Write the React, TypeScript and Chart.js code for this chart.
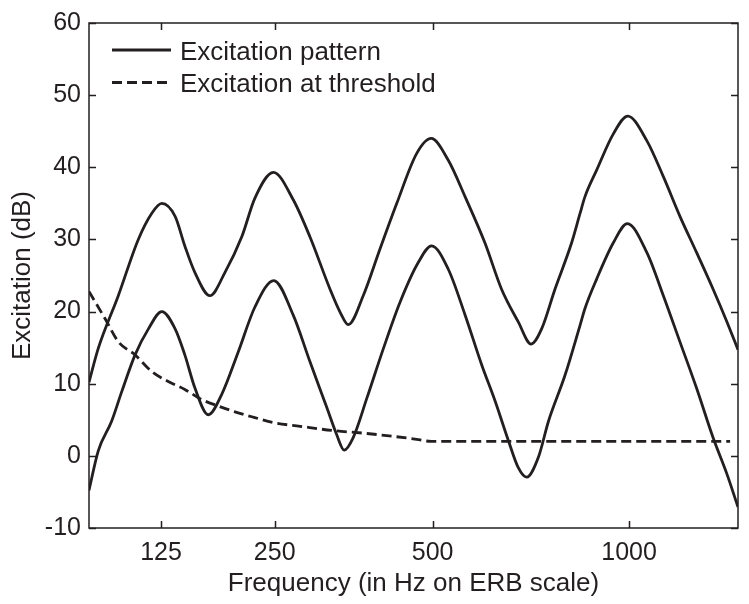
import React, { useEffect, useRef } from "react";
import { Chart, registerables } from "chart.js";

Chart.register(...registerables);

// x values are ERB numbers (ERB-rate scale), y values in dB
const UPPER_ERB = [2.27, 2.5, 2.995, 3.49, 3.82, 4.07, 4.4, 4.64, 4.89, 5.26, 5.63, 6.05, 6.37, 6.83, 7.32, 7.73, 8.23, 8.48, 8.68, 9.05, 9.46, 9.88, 10.37, 10.73, 11.15, 11.57, 12.06, 12.47, 12.88, 13.2, 13.46, 13.79, 14.2, 14.41, 14.53, 14.82, 15.23, 15.59, 16.06, 16.47, 16.88, 17.29, 17.7, 18.04, 18.315];
const UPPER_DB = [10.2, 14.9, 22.2, 30.0, 33.6, 35.0, 33.2, 29.1, 25.4, 22.2, 25.4, 30.4, 35.7, 39.3, 35.5, 30.4, 23.1, 19.9, 18.2, 22.2, 28.6, 35.0, 41.9, 44.0, 41.0, 35.9, 29.5, 23.1, 18.6, 15.5, 17.6, 23.1, 29.5, 33.6, 35.9, 39.6, 44.6, 47.1, 43.7, 38.7, 33.2, 28.2, 23.1, 18.6, 14.7];

const LOWER_ERB = [2.27, 2.5, 2.83, 3.08, 3.41, 3.74, 4.07, 4.4, 4.64, 4.89, 5.22, 5.55, 5.96, 6.37, 6.84, 7.32, 7.73, 8.15, 8.39, 8.58, 8.8, 9.14, 9.55, 9.96, 10.41, 10.74, 11.15, 11.57, 11.98, 12.31, 12.64, 12.88, 13.09, 13.38, 13.63, 14.04, 14.41, 14.53, 14.82, 15.23, 15.58, 16.06, 16.47, 16.88, 17.29, 17.7, 18.04, 18.315];
const LOWER_DB = [-4.8, 0.7, 4.8, 8.9, 14.0, 17.6, 20.0, 17.6, 14.0, 9.4, 5.7, 8.5, 14.4, 20.6, 24.3, 19.5, 13.1, 6.7, 3.0, 0.8, 2.5, 8.0, 14.9, 21.3, 26.8, 29.1, 25.9, 19.5, 12.6, 7.6, 2.1, -1.6, -2.95, -0.2, 4.8, 11.2, 18.1, 20.4, 24.5, 29.5, 32.2, 28.2, 22.2, 15.8, 9.4, 2.5, -2.5, -7.1];

const THRESH_ERB = [2.27, 2.67, 3.0, 3.41, 3.82, 4.23, 4.64, 5.06, 5.47, 5.88, 6.37, 6.83, 7.49, 8.31, 9.14, 10.37, 10.73, 18.12];
const THRESH_DB = [22.8, 19.0, 15.8, 14.0, 11.7, 10.3, 9.2, 7.8, 6.9, 6.1, 5.3, 4.6, 4.1, 3.5, 3.1, 2.3, 2.0, 2.0];

const TICK_HZ = [125, 250, 500, 1000];
const TICK_LABELS = ["125", "250", "500", "1000"];
const Y_TICKS = [-10, 0, 10, 20, 30, 40, 50, 60];

const X_MIN_ERB = 2.271;
const X_MAX_ERB = 18.315;

const LABEL_PATTERN = "Excitation pattern";
const LABEL_THRESHOLD = "Excitation at threshold";
const X_TITLE = "Frequency (in Hz on ERB scale)";
const Y_TITLE = "Excitation (dB)";

const INK = "#231f20";
const FONT = "'Liberation Sans', Arial, Helvetica, sans-serif";

const hzToErb = (f: number) => 21.4 * Math.log10(0.00437 * f + 1);

const zip = (xs: number[], ys: number[]) => xs.map((x, i) => ({ x, y: ys[i] }));

const framePlugin = {
  id: "frameAndLegend",
  afterDraw(chart: any) {
    const { ctx, chartArea } = chart;
    const { left, right, top, bottom } = chartArea;
    const xs = chart.scales.x;
    const ys = chart.scales.y;
    ctx.save();
    ctx.strokeStyle = INK;
    ctx.lineWidth = 1.5;
    ctx.setLineDash([]);
    ctx.strokeRect(left, top, right - left, bottom - top);
    const tl = 7;
    ctx.beginPath();
    xs.ticks.forEach((t: any) => {
      const px = Math.round(xs.getPixelForValue(t.value)) + 0.5;
      ctx.moveTo(px, bottom);
      ctx.lineTo(px, bottom - tl);
      ctx.moveTo(px, top);
      ctx.lineTo(px, top + tl);
    });
    ys.ticks.forEach((t: any) => {
      const py = Math.round(ys.getPixelForValue(t.value)) + 0.5;
      ctx.moveTo(left, py);
      ctx.lineTo(left + tl, py);
      ctx.moveTo(right, py);
      ctx.lineTo(right - tl, py);
    });
    ctx.stroke();

    // legend
    const seen: string[] = [];
    const items: any[] = [];
    chart.data.datasets.forEach((ds: any) => {
      if (!seen.includes(ds.label)) {
        seen.push(ds.label);
        items.push(ds);
      }
    });
    ctx.font = `26px ${FONT}`;
    ctx.fillStyle = INK;
    ctx.textBaseline = "alphabetic";
    ctx.textAlign = "left";
    items.forEach((ds: any, i: number) => {
      const ly = 50 + i * 32.5;
      ctx.beginPath();
      ctx.lineWidth = ds.borderWidth;
      ctx.setLineDash(ds.borderDash || []);
      ctx.moveTo(left + 23, ly);
      ctx.lineTo(left + 82, ly);
      ctx.stroke();
      ctx.fillText(ds.label, left + 91, ly + 9.5);
    });
    ctx.restore();
  },
};

export default function App() {
  const ref = useRef<HTMLCanvasElement>(null);
  useEffect(() => {
    if (!ref.current) return;
    const common = {
      borderColor: INK,
      borderWidth: 2.8,
      pointRadius: 0,
      cubicInterpolationMode: "monotone",
      fill: false,
    };
    const chart = new Chart(ref.current, {
      type: "line",
      data: {
        datasets: [
          { ...common, label: LABEL_PATTERN, data: zip(UPPER_ERB, UPPER_DB) },
          { ...common, label: LABEL_THRESHOLD, data: zip(THRESH_ERB, THRESH_DB), borderDash: [10, 5] },
          { ...common, label: LABEL_PATTERN, data: zip(LOWER_ERB, LOWER_DB) },
        ],
      },
      options: {
        responsive: false,
        animation: false,
        layout: { padding: { top: 18, right: 11, left: 0, bottom: 0 } },
        plugins: { legend: { display: false }, tooltip: { enabled: false } },
        scales: {
          x: {
            type: "linear",
            min: X_MIN_ERB,
            max: X_MAX_ERB,
            grid: { display: false, drawTicks: false },
            border: { display: false },
            afterFit: (s: any) => {
              s.height = 76;
            },
            afterBuildTicks: (s: any) => {
              s.ticks = TICK_HZ.map((f) => ({ value: hzToErb(f) }));
            },
            ticks: {
              autoSkip: false,
              maxRotation: 0,
              padding: 10,
              color: INK,
              font: { family: FONT, size: 25 },
              callback: (_v: any, i: number) => TICK_LABELS[i],
            },
            title: {
              display: true,
              text: X_TITLE,
              color: INK,
              font: { family: FONT, size: 26 },
              padding: { top: 0, bottom: 5 },
            },
          },
          y: {
            type: "linear",
            min: -10,
            max: 60,
            grid: { display: false, drawTicks: false },
            border: { display: false },
            afterFit: (s: any) => {
              s.width = 89;
            },
            afterBuildTicks: (s: any) => {
              s.ticks = Y_TICKS.map((v) => ({ value: v }));
            },
            ticks: {
              padding: 8,
              color: INK,
              font: { family: FONT, size: 25 },
              callback: (v: any) => String(v),
            },
            title: {
              display: true,
              text: Y_TITLE,
              color: INK,
              font: { family: FONT, size: 26 },
              padding: { top: 7, bottom: 0 },
            },
          },
        },
      },
      plugins: [framePlugin],
    } as any);
    return () => chart.destroy();
  }, []);
  return (
    <div style={{ position: "absolute", left: 0, top: 0, width: 749, height: 604, background: "#fff" }}>
      <canvas ref={ref} width={749} height={604} style={{ display: "block" }} />
    </div>
  );
}
